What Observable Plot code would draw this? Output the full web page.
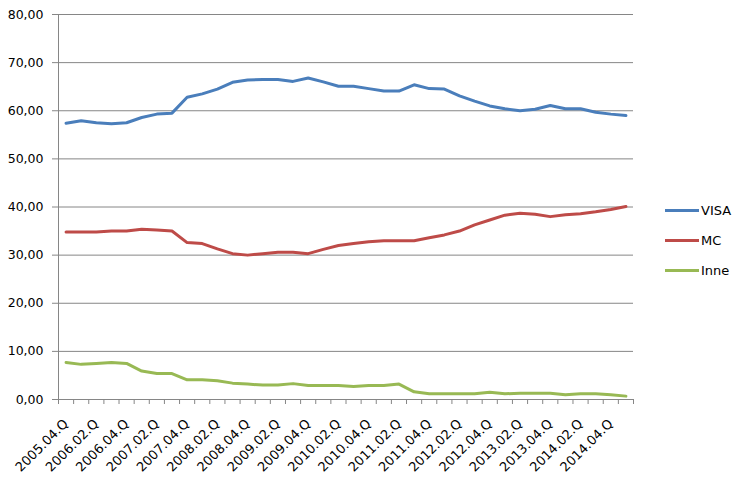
<!DOCTYPE html>
<html>
<head>
<meta charset="utf-8">
<script src="https://cdn.jsdelivr.net/npm/d3@7"></script>
<script src="https://cdn.jsdelivr.net/npm/@observablehq/plot@0.6"></script>
<style>
  html, body { margin: 0; padding: 0; background: #fff; }
  #wrap { position: relative; width: 736px; height: 478px; font-family: "DejaVu Sans", sans-serif; }
  #legend { position: absolute; left: 665px; top: 195px; font-size: 13px; color: #000; }
  .item { display: flex; align-items: center; height: 30px; }
  .swatch { width: 34px; height: 3px; margin-right: 2px; }
</style>
</head>
<body>
<div id="wrap"></div>
<script>
const quarters = [
  "2005.04.Q","2006.01.Q","2006.02.Q","2006.03.Q","2006.04.Q",
  "2007.01.Q","2007.02.Q","2007.03.Q","2007.04.Q",
  "2008.01.Q","2008.02.Q","2008.03.Q","2008.04.Q",
  "2009.01.Q","2009.02.Q","2009.03.Q","2009.04.Q",
  "2010.01.Q","2010.02.Q","2010.03.Q","2010.04.Q",
  "2011.01.Q","2011.02.Q","2011.03.Q","2011.04.Q",
  "2012.01.Q","2012.02.Q","2012.03.Q","2012.04.Q",
  "2013.01.Q","2013.02.Q","2013.03.Q","2013.04.Q",
  "2014.01.Q","2014.02.Q","2014.03.Q","2014.04.Q","2015.01.Q"
];
const visa = [57.4,57.9,57.5,57.3,57.5,58.6,59.3,59.5,62.8,63.5,64.5,65.9,66.4,66.5,66.5,66.1,66.8,66.0,65.1,65.1,64.6,64.1,64.1,65.4,64.6,64.5,63.1,62.0,61.0,60.4,60.0,60.3,61.1,60.4,60.4,59.7,59.3,59.0];
const mc   = [34.8,34.8,34.8,35.0,35.0,35.4,35.2,35.0,32.6,32.4,31.3,30.3,30.0,30.3,30.6,30.6,30.3,31.2,32.0,32.4,32.8,33.0,33.0,33.0,33.6,34.2,35.0,36.3,37.3,38.3,38.7,38.5,38.0,38.4,38.6,39.0,39.5,40.1];
const inne = [7.7,7.3,7.5,7.7,7.5,5.9,5.4,5.4,4.1,4.1,3.9,3.4,3.2,3.0,3.0,3.3,2.9,2.9,2.9,2.7,2.9,2.9,3.2,1.6,1.2,1.2,1.2,1.2,1.5,1.2,1.3,1.3,1.3,1.0,1.2,1.2,1.0,0.7];
const seriesNames = ["VISA", "MC", "Inne"];
const seriesColors = ["#4A7EBB", "#BE4B48", "#98B954"];
const yTicks = [0, 10, 20, 30, 40, 50, 60, 70, 80];

const seriesValues = [visa, mc, inne];
const idx = quarters.map((_, i) => i);
const labelIdx = idx.filter(i => i % 2 === 0 && i < 37);
const boundaries = [...idx.map(i => i - 0.5), quarters.length - 0.5];
const grid = "#868686";
const fmt = d => d.toFixed(2).replace(".", ",");

const lineMarks = seriesValues.map((vals, s) =>
  Plot.line(idx, {x: i => i, y: i => vals[i], stroke: seriesColors[s], strokeWidth: 3, strokeLinejoin: "round", strokeLinecap: "round"})
);

const chart = Plot.plot({
  width: 736,
  height: 478,
  marginLeft: 58,
  marginRight: 103,
  marginTop: 14,
  marginBottom: 79,
  style: {fontFamily: "DejaVu Sans, sans-serif", fontSize: "12.5px", color: "#000", background: "#fff"},
  x: {type: "linear", domain: [-0.5, quarters.length - 0.5]},
  y: {domain: [0, 80]},
  marks: [
    Plot.gridY(yTicks, {stroke: grid, strokeOpacity: 1, strokeWidth: 1}),
    Plot.axisY(yTicks, {tickFormat: fmt, tickSize: 6, tickPadding: 9, stroke: grid, strokeOpacity: 1, label: null, fill: "#000"}),
    Plot.frame({anchor: "left", stroke: grid}),
    Plot.axisX(boundaries, {tickSize: 5, tickFormat: () => "", stroke: grid, strokeOpacity: 1, label: null}),
    Plot.axisX(labelIdx, {tickSize: 0, tickPadding: 22, tickRotate: -45, tickFormat: i => quarters[i], label: null, fill: "#000", fontSize: 13}),
    ...lineMarks
  ]
});
document.getElementById("wrap").appendChild(chart);

const legend = document.createElement("div");
legend.id = "legend";
seriesNames.forEach((name, s) => {
  const item = document.createElement("div");
  item.className = "item";
  const sw = document.createElement("div");
  sw.className = "swatch";
  sw.style.background = seriesColors[s];
  const t = document.createElement("span");
  t.textContent = name;
  item.appendChild(sw);
  item.appendChild(t);
  legend.appendChild(item);
});
document.getElementById("wrap").appendChild(legend);
</script>
</body>
</html>
